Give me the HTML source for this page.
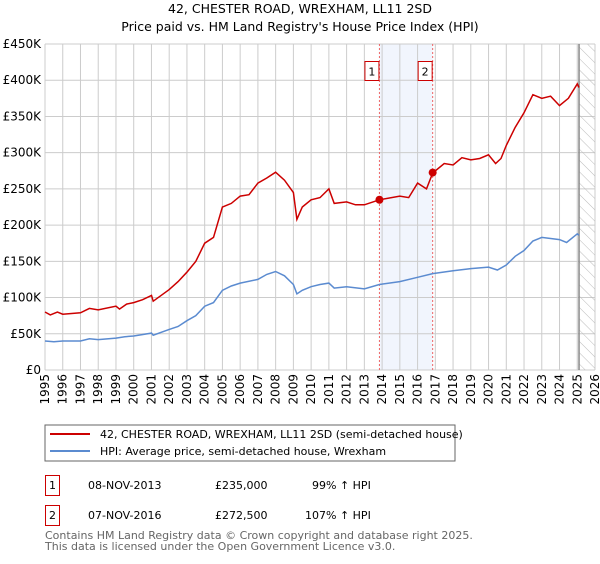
<!DOCTYPE html>
<html><head><meta charset="utf-8"><style>
body{margin:0;background:#fff;font-family:"DejaVu Sans","Liberation Sans",sans-serif;}
svg text{font-family:"DejaVu Sans","Liberation Sans",sans-serif;}
</style></head><body>
<svg id="c" width="600" height="560" xmlns="http://www.w3.org/2000/svg">
<defs><pattern id="hatch" width="8" height="8" patternUnits="userSpaceOnUse" patternTransform="rotate(-45)"><line x1="0" y1="0" x2="0" y2="8" stroke="#bbb" stroke-width="1"/></pattern></defs>
<text x="300" y="13" text-anchor="middle" font-size="12.5">42, CHESTER ROAD, WREXHAM, LL11 2SD</text>
<text x="300" y="31" text-anchor="middle" font-size="12.5">Price paid vs. HM Land Registry's House Price Index (HPI)</text>
<g id="grid"></g><g id="marks"></g><g id="axes"></g>
<rect x="45" y="425" width="410" height="36" fill="#fff" stroke="#666"/>
<line x1="50" y1="434" x2="90" y2="434" stroke="#cc0000" stroke-width="2"/>
<text x="100" y="438" font-size="11">42, CHESTER ROAD, WREXHAM, LL11 2SD (semi-detached house)</text>
<line x1="50" y1="451" x2="90" y2="451" stroke="#5b8bd0" stroke-width="2"/>
<text x="100" y="455" font-size="11">HPI: Average price, semi-detached house, Wrexham</text>
<g font-size="11">
<rect x="45.5" y="475.5" width="14" height="20" fill="#fff" stroke="#cc0000"/>
<text x="52.5" y="489" text-anchor="middle">1</text>
<text x="88" y="489">08-NOV-2013</text>
<text x="215" y="489">£235,000</text>
<text x="312" y="489">99% ↑ HPI</text>
<rect x="45.5" y="505.5" width="14" height="20" fill="#fff" stroke="#cc0000"/>
<text x="52.5" y="519" text-anchor="middle">2</text>
<text x="88" y="519">07-NOV-2016</text>
<text x="215" y="519">£272,500</text>
<text x="305" y="519">107% ↑ HPI</text>
</g>
<text x="45" y="539" font-size="11" fill="#666">Contains HM Land Registry data © Crown copyright and database right 2025.</text>
<text x="45" y="550" font-size="11" fill="#666">This data is licensed under the Open Government Licence v3.0.</text>
</svg>
<script>
const yTicks=[0,50,100,150,200,250,300,350,400,450];
const yTickLabels=["£0","£50K","£100K","£150K","£200K","£250K","£300K","£350K","£400K","£450K"];
const xYears=[1995,1996,1997,1998,1999,2000,2001,2002,2003,2004,2005,2006,2007,2008,2009,2010,2011,2012,2013,2014,2015,2016,2017,2018,2019,2020,2021,2022,2023,2024,2025,2026];
const hpiDates=[1995,1995.5,1996,1997,1997.5,1998,1999,1999.5,2000,2001,2001.1,2002,2002.5,2003,2003.5,2004,2004.5,2005,2005.5,2006,2007,2007.5,2008,2008.5,2009,2009.2,2009.5,2010,2010.5,2011,2011.3,2012,2013,2013.85,2015,2016,2016.85,2018,2019,2020,2020.5,2021,2021.5,2022,2022.5,2023,2024,2024.4,2025,2025.1];
const hpiValues=[40,39,40,40,43,42,44,46,47,51,48,56,60,68,75,88,93,110,116,120,125,132,136,130,118,105,110,115,118,120,113,115,112,118,122,128,133,137,140,142,138,145,157,165,178,183,180,176,188,186];
const redDates=[1995,1995.3,1995.7,1996,1997,1997.5,1998,1999,1999.2,1999.6,2000,2000.5,2001,2001.1,2002,2002.5,2003,2003.5,2004,2004.5,2005,2005.5,2006,2006.5,2007,2007.5,2008,2008.5,2009,2009.2,2009.5,2010,2010.5,2011,2011.3,2012,2012.5,2013,2013.85,2015,2015.5,2016,2016.5,2016.85,2017.5,2018,2018.5,2019,2019.5,2020,2020.4,2020.7,2021,2021.5,2022,2022.5,2023,2023.5,2024,2024.5,2025,2025.1];
const redValues=[80,76,80,77,79,85,83,88,84,91,93,97,103,95,111,122,135,150,175,183,225,230,240,242,258,265,273,262,245,208,225,235,238,250,230,232,228,228,235,240,238,258,250,272,285,283,293,290,292,297,285,292,310,335,355,380,375,378,365,375,395,390];
const saleDates=[2013.85,2016.85];
const saleValues=[235,272.5];
const saleLabels=["1","2"];
const NS="http://www.w3.org/2000/svg";
const X0=45,X1=595,Y0=370,Y1=44;
const xs=t=>X0+(t-1995)/(2026-1995)*(X1-X0);
const ys=v=>Y0-v/450*(Y0-Y1);
function mk(tag,attrs,parent){const e=document.createElementNS(NS,tag);for(const k in attrs)e.setAttribute(k,attrs[k]);parent.appendChild(e);return e;}
const grid=document.getElementById('grid'),marks=document.getElementById('marks'),axes=document.getElementById('axes');
// shaded region
const sh=mk('rect',{x:xs(saleDates[0]),y:Y1,width:xs(saleDates[1])-xs(saleDates[0]),height:Y0-Y1,fill:'#eef2fc',opacity:0.8},grid);


yTicks.forEach((v,i)=>{
 const l=mk('line',{x1:X0,x2:X1,y1:ys(v),y2:ys(v),stroke:'#ccc'},grid);
 
 
 const t=mk('text',{x:X0-4,y:ys(v)+4,'text-anchor':'end','font-size':'12'},axes);
 t.textContent=yTickLabels[i];
 
 
});
xYears.forEach(y=>{
 const l=mk('line',{x1:xs(y),x2:xs(y),y1:Y1,y2:Y0,stroke:'#ccc'},grid);
 
 
 const t=mk('text',{x:0,y:0,'text-anchor':'end','font-size':'12',transform:`translate(${xs(y)+4},${Y0+4}) rotate(-90)`},axes);
 t.textContent=y;
 
 
});
// future hatch
const hx=xs(2025.1);
const h=mk('rect',{x:hx,y:Y1,width:X1-hx,height:Y0-Y1,fill:'url(#hatch)'},grid);


const hl=mk('line',{x1:hx,x2:hx,y1:Y1,y2:Y0,stroke:'#888','stroke-width':1.5},grid);


saleDates.forEach((d,i)=>{
 const l=mk('line',{x1:xs(d),x2:xs(d),y1:Y1,y2:Y0,stroke:'#e66','stroke-dasharray':'2,2'},grid);
 
 
 const r=mk('rect',{x:xs(d)-14.5,y:61.5,width:14,height:19,fill:'#fff',stroke:'#cc0000'},axes);
 
 
 const t=mk('text',{x:xs(d)-7.5,y:75.5,'text-anchor':'middle','font-size':'11'},axes);
 t.textContent=saleLabels[i];
 
 
});
const path=(D,V)=>D.map((d,i)=>(i?'L':'M')+xs(d).toFixed(1)+','+ys(V[i]).toFixed(1)).join('');
const hp=mk('path',{d:path(hpiDates,hpiValues),fill:'none',stroke:'#5b8bd0','stroke-width':1.5},marks);


const rp=mk('path',{d:path(redDates,redValues),fill:'none',stroke:'#cc0000','stroke-width':1.5},marks);


saleDates.forEach((d,i)=>{
 const c=mk('circle',{cx:xs(d),cy:ys(saleValues[i]),r:4,fill:'#cc0000'},marks);
 
 
});
</script>
</body></html>
